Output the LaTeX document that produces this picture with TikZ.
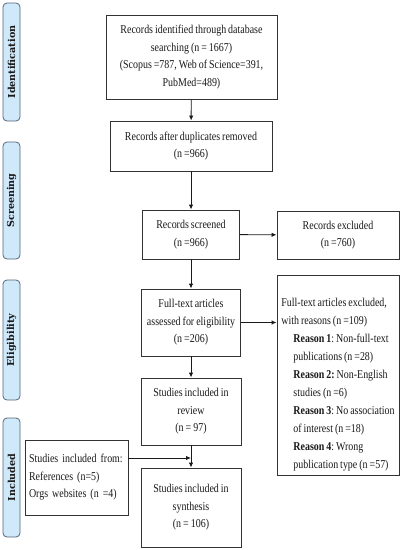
\documentclass[tikz,border=0pt]{standalone}
\usepackage{fontspec}
\setmainfont{Liberation Serif}[FakeStretch=0.83, WordSpace=0.8]
\newfontfamily\phasefont{DejaVu Serif}
\usetikzlibrary{arrows.meta}
\definecolor{phasefill}{HTML}{CFE8FA}
\definecolor{phaseline}{HTML}{56687A}
\definecolor{boxline}{HTML}{333333}
\definecolor{txt}{HTML}{1A1A1A}
\tikzset{
  box/.style={draw=boxline, line width=0.9pt, fill=white, align=center, inner sep=0pt,
    text=txt, font=\frenchspacing\fontsize{12}{17.5}\selectfont},
  phase/.style={draw=phaseline, line width=0.8pt, fill=phasefill, rounded corners=4pt,
    rotate=90, minimum height=17pt, inner sep=0pt, text=txt,
    font=\phasefont\bfseries\fontsize{9.6}{10}\selectfont},
  arr/.style={draw=txt, line width=0.9pt, -{Latex[length=5pt,width=4.5pt]}}
}
\newcommand{\rs}{\hspace*{12pt}}
\begin{document}
\begin{tikzpicture}[x=1pt,y=-1pt]
\useasboundingbox[fill=white] (0,0) rectangle (402,550);

% phase labels
\node[phase, minimum width=118pt] (pid) at (11.5,62) {Identification};
\node[phase, minimum width=117pt] (psc) at (11.5,200.5) {Screening};
\node[phase, minimum width=120pt] (pel) at (11.5,340) {Eligibility};
\node[phase, minimum width=119pt] (pin) at (11.5,477.5) {Included};

% main column
\node[box, minimum width=171pt, minimum height=84pt] (b1) at (191.5,57)
  {Records identified through database\\searching (n = 1667)\\(Scopus =787, Web of Science=391,\\PubMed=489)};
\node[box, minimum width=162pt, minimum height=50pt] (b2) at (191,146)
  {Records after duplicates removed\\(n =966)};
\node[box, minimum width=97pt, minimum height=49pt] (b3) at (191,234.5)
  {Records screened\\(n =966)};
\node[box, minimum width=122pt, minimum height=48pt] (e1) at (338,235)
  {Records excluded\\(n =760)};
\node[box, minimum width=99pt, minimum height=67pt] (b4) at (191,322.5)
  {Full-text articles\\assessed for eligibility\\(n =206)};
\node[box, minimum width=122pt, minimum height=200pt, align=left,
  font=\frenchspacing\fontsize{12}{18}\selectfont] (e2) at (338,375)
  {\rule{0pt}{27pt}Full-text articles excluded,\\
   with reasons (n =109)\\
   \rs\textbf{Reason 1}: Non-full-text\\
   \rs publications (n =28)\\
   \rs\textbf{Reason 2:} Non-English\\
   \rs studies (n =6)\\
   \rs\textbf{Reason 3}: No association\\
   \rs of interest (n =18)\\
   \rs\textbf{Reason 4}: Wrong\\
   \rs publication type (n =57)};
\node[box, minimum width=100pt, minimum height=67pt] (b5) at (191,411.5)
  {Studies included in\\review\\(n = 97)};
\node[box, minimum width=100pt, minimum height=79pt] (b6) at (191,507.5)
  {Studies included in\\synthesis\\(n = 106)};
\node[box, minimum width=103pt, minimum height=75pt, text width=95pt, align=left] (b7) at (76.5,477.5)
  {Studies included from:\\References (n=5)\\Orgs websites (n =4)};

% connectors
\draw[arr] (b1) -- (b2);
\draw[arr] (b2) -- (b3);
\draw[arr] (b3) -- (e1);
\draw[arr] (b3) -- (b4);
\draw[arr] (b4.east) -- (b4.east -| e2.west);
\draw[arr] (b4) -- (b5);
\draw[arr] (b5) -- (b6);
\coordinate (j) at (191,458);
\draw[arr] (j -| b7.east) -- (j);
\end{tikzpicture}
\end{document}
